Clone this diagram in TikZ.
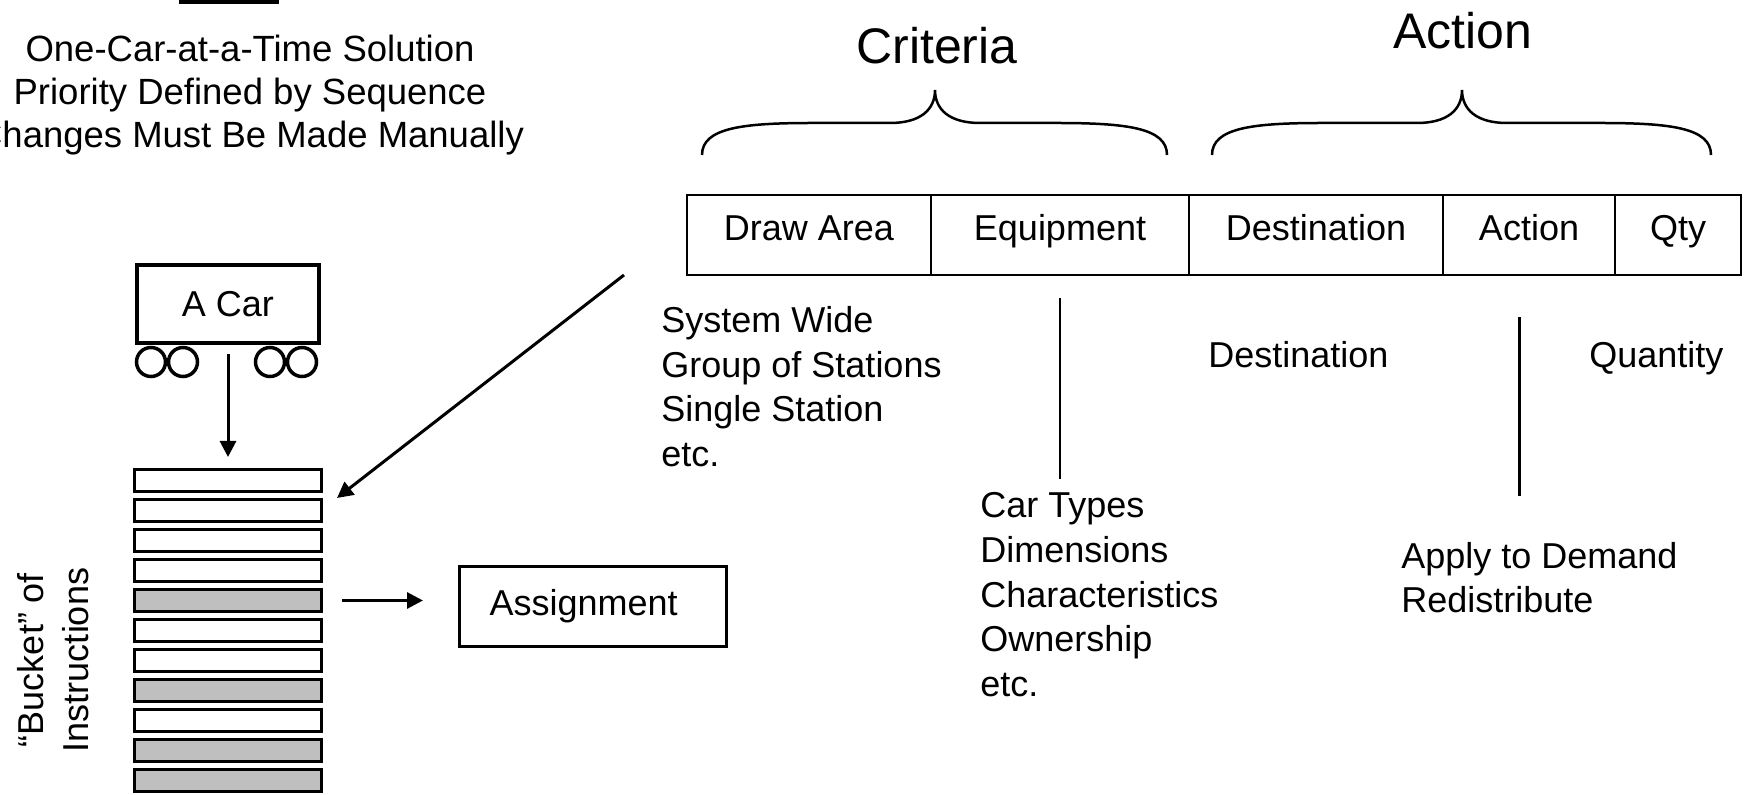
\documentclass[tikz,border=0pt]{standalone}
\usepackage{fontspec}
\setmainfont{Liberation Sans}
\usetikzlibrary{positioning, arrows.meta}

\begin{document}
\begin{tikzpicture}[x=0.5pt, y=-0.5pt, >={Triangle[length=8pt,width=8pt]},
    txt/.style={font=\fontsize{18}{22.25}\selectfont, inner sep=0pt},
    title/.style={font=\fontsize{25}{30}\selectfont, inner sep=0pt},
    cell/.style={draw, line width=0.8pt, minimum height=40pt, outer sep=0pt, inner sep=0pt,
        font=\fontsize{18}{22.25}\selectfont, text height=0.75em, text depth=0.2em},
    slot/.style={draw, line width=1.5pt, minimum width=93.5pt, minimum height=11pt, inner sep=0pt},
    brace/.style={line width=1.25pt},
    arr/.style={->, line width=1.5pt}]
    \useasboundingbox (0,0) rectangle (1754,795);

    % Heading at the top left (base = last line)
    \fill (179,-10) rectangle (279,4);
    \node[txt, font=\fontsize{18.25}{21.5}\selectfont, anchor=base, align=center] (heading) at (250,148) {One-Car-at-a-Time Solution\\Priority Defined by Sequence\\Changes Must Be Made Manually};

    % The instruction record
    \node[cell, minimum width=122pt, anchor=north west] (drawarea) at (687,195) {Draw Area};
    \node[cell, minimum width=129pt, right=0pt of drawarea] (equip) {Equipment};
    \node[cell, minimum width=127pt, right=0pt of equip] (dest) {Destination};
    \node[cell, minimum width=86pt, right=0pt of dest] (act) {Action};
    \node[cell, minimum width=63pt, right=0pt of act] (qty) {Qty};

    % Braces and their titles
    \draw[brace] (702,155) .. controls (702,128) and (742,123) .. (812,123) -- (890,123)
        .. controls (920,123) and (935,110) .. (935,90) .. controls (935,110) and (950,123) .. (980,123)
        -- (1057,123) .. controls (1127,123) and (1167,128) .. (1167,155);
    \draw[brace] (1212,155) .. controls (1212,128) and (1252,123) .. (1322,123) -- (1417,123)
        .. controls (1447,123) and (1462,110) .. (1462,90) .. controls (1462,110) and (1477,123) .. (1507,123)
        -- (1601,123) .. controls (1671,123) and (1711,128) .. (1711,155);
    \node[title, anchor=base] (criteria) at (937,64) {Criteria};
    \node[title, anchor=base] (action) at (1463,49) {Action};

    % Notes under the fields (base = last line)
    \node[txt, anchor=base west, align=left] (areas) at (661,466.5) {System Wide\\Group of Stations\\Single Station\\etc.};
    \node[txt, anchor=base west, align=left] (equiplist) at (980,696) {Car Types\\Dimensions\\Characteristics\\Ownership\\etc.};
    \node[txt, anchor=base west] (destnote) at (1208,368) {Destination};
    \node[txt, anchor=base west] (qtynote) at (1589,368) {Quantity};
    \node[txt, anchor=base west, align=left] (actionlist) at (1401,612.5) {Apply to Demand\\Redistribute};
    \draw[line width=1pt] ([yshift=-11.5pt]equip.south) -- ([yshift=6.75pt]equip.south |- equiplist.north);
    \draw[line width=1.5pt] ([xshift=-5pt,yshift=-21pt]act.south) -- ([xshift=-5pt,yshift=22.75pt]act.south |- actionlist.north);

    % A car on its wheels
    \node[txt, draw, line width=2pt, minimum width=91pt, minimum height=39pt] (car) at (228,304) {A Car};
    \coordinate (w1) at ([xshift=8pt,yshift=-8.5pt]car.south west);
    \coordinate (w2) at ([xshift=24pt,yshift=-8.5pt]car.south west);
    \coordinate (w3) at ([xshift=67.5pt,yshift=-8.5pt]car.south west);
    \coordinate (w4) at ([xshift=83.5pt,yshift=-8.5pt]car.south west);
    \draw[line width=1.75pt] (w1) circle [radius=7.25pt];
    \draw[line width=1.75pt] (w2) circle [radius=7.25pt];
    \draw[line width=1.75pt] (w3) circle [radius=7.25pt];
    \draw[line width=1.75pt] (w4) circle [radius=7.25pt];

    % Bucket of instructions
    \node[slot, fill=white] (bar1) at (228,480.5) {};
    \node[slot, fill=white] (bar2) at (228,510.5) {};
    \node[slot, fill=white] (bar3) at (228,540.5) {};
    \node[slot, fill=white] (bar4) at (228,570.5) {};
    \node[slot, fill=black!25] (bar5) at (228,600.5) {};
    \node[slot, fill=white] (bar6) at (228,630.5) {};
    \node[slot, fill=white] (bar7) at (228,660.5) {};
    \node[slot, fill=black!25] (bar8) at (228,690.5) {};
    \node[slot, fill=white] (bar9) at (228,720.5) {};
    \node[slot, fill=black!25] (bar10) at (228,750.5) {};
    \node[slot, fill=black!25] (bar11) at (228,780.5) {};
    \node[txt, rotate=90, align=center] (bucket) at (53,660) {“Bucket” of\\Instructions};

    % Result
    \node[txt, draw, line width=1.5pt, anchor=north west, minimum height=40pt, text width=103.5pt, inner xsep=15pt, align=left] (assign) at (458,565) {Assignment};

    % Arrows
    \coordinate (drawsrc) at ([xshift=-31.5pt]drawarea.south west);
    \draw[arr, shorten <=4.5pt, shorten >=5.5pt] (car.south) -- (bar1.north);
    \draw[arr] (drawsrc) -- ([xshift=7pt]bar2.north east);
    \draw[arr, shorten <=9.5pt, shorten >=17.5pt] (bar5.east) -- (bar5.east -| assign.west);
\end{tikzpicture}
\end{document}
